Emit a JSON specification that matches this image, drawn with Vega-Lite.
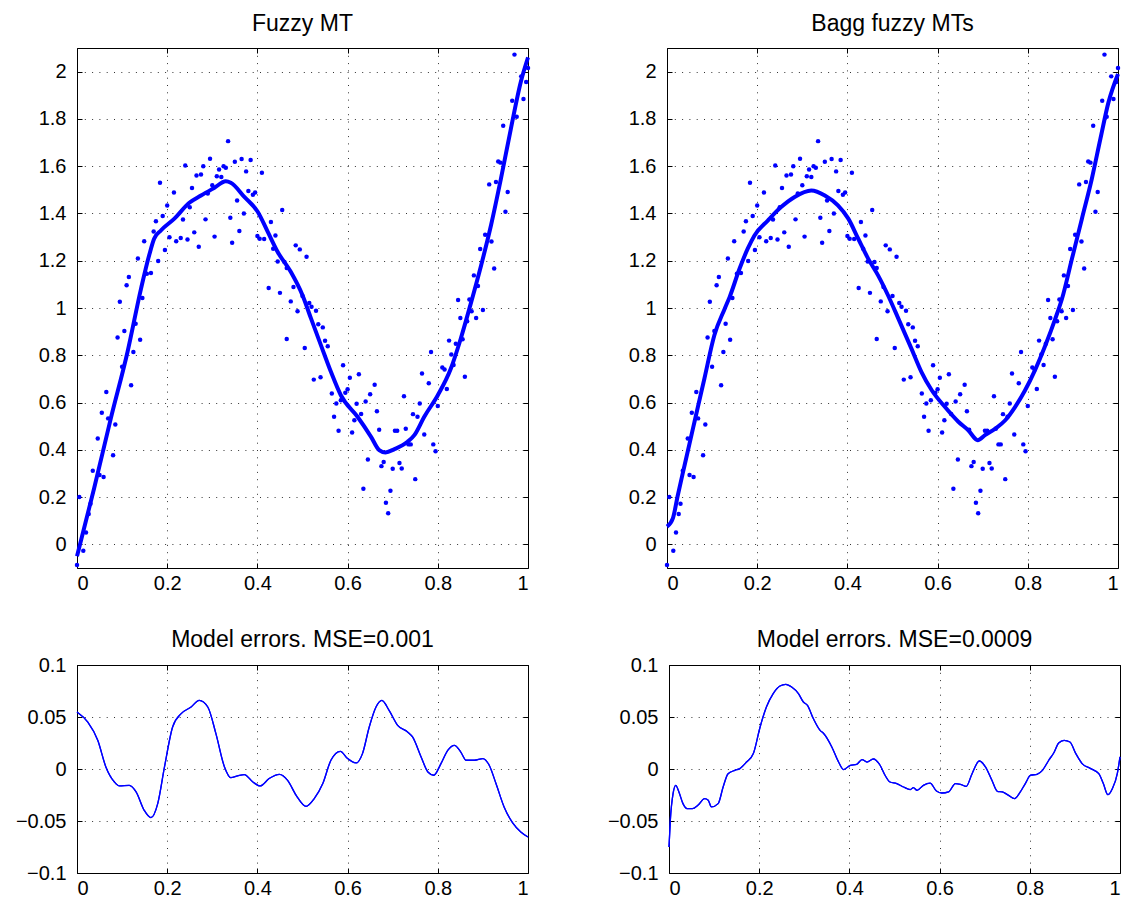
{
  "$schema": "https://vega.github.io/schema/vega-lite/v6.json",
  "padding": {"left": 14, "top": 12, "right": 2, "bottom": 0},
  "background": "#ffffff",
  "config": {
    "font": "Liberation Sans",
    "view": {"stroke": "#000000", "strokeWidth": 1},
    "axis": {
      "domain": false,
      "gridColor": "#000000",
      "gridDash": [1, 6.3],
      "gridOpacity": 0.8,
      "gridWidth": 1,
      "tickColor": "#000000",
      "tickSize": -5,
      "tickWidth": 1,
      "labelFontSize": 20,
      "labelColor": "#000000",
      "labelFont": "Liberation Sans"
    },
    "axisX": {"labelPadding": 10},
    "axisY": {"labelPadding": 16},
    "title": {"fontSize": 23, "fontWeight": "normal", "color": "#000000", "font": "Liberation Sans", "baseline": "alphabetic"}
  },
  "datasets": {
    "pts": [
      {"x":0,"y":-0.087},{"x":0.005,"y":0.2},{"x":0.014,"y":-0.027},{"x":0.02,"y":0.05},{"x":0.026,"y":0.128},{"x":0.03,"y":0.172},{"x":0.035,"y":0.311},{"x":0.046,"y":0.448},{"x":0.05,"y":0.293},{"x":0.055,"y":0.557},{"x":0.059,"y":0.285},{"x":0.065,"y":0.645},{"x":0.069,"y":0.533},{"x":0.08,"y":0.377},{"x":0.085,"y":0.507},{"x":0.09,"y":0.875},{"x":0.095,"y":1.026},{"x":0.1,"y":0.751},{"x":0.105,"y":0.903},{"x":0.11,"y":1.096},{"x":0.115,"y":1.131},{"x":0.12,"y":0.673},{"x":0.125,"y":0.814},{"x":0.13,"y":0.933},{"x":0.135,"y":1.209},{"x":0.14,"y":0.866},{"x":0.145,"y":1.042},{"x":0.149,"y":1.282},{"x":0.155,"y":1.145},{"x":0.164,"y":1.148},{"x":0.17,"y":1.324},{"x":0.175,"y":1.367},{"x":0.18,"y":1.199},{"x":0.184,"y":1.53},{"x":0.19,"y":1.389},{"x":0.195,"y":1.245},{"x":0.2,"y":1.434},{"x":0.205,"y":1.299},{"x":0.215,"y":1.489},{"x":0.22,"y":1.282},{"x":0.23,"y":1.296},{"x":0.235,"y":1.374},{"x":0.24,"y":1.603},{"x":0.245,"y":1.29},{"x":0.25,"y":1.426},{"x":0.255,"y":1.508},{"x":0.26,"y":1.32},{"x":0.265,"y":1.561},{"x":0.27,"y":1.259},{"x":0.275,"y":1.565},{"x":0.28,"y":1.6},{"x":0.285,"y":1.375},{"x":0.29,"y":1.484},{"x":0.295,"y":1.631},{"x":0.3,"y":1.519},{"x":0.305,"y":1.302},{"x":0.31,"y":1.557},{"x":0.315,"y":1.586},{"x":0.32,"y":1.554},{"x":0.325,"y":1.6},{"x":0.33,"y":1.593},{"x":0.335,"y":1.706},{"x":0.34,"y":1.382},{"x":0.344,"y":1.276},{"x":0.35,"y":1.619},{"x":0.355,"y":1.455},{"x":0.36,"y":1.326},{"x":0.365,"y":1.63},{"x":0.37,"y":1.4},{"x":0.375,"y":1.578},{"x":0.38,"y":1.495},{"x":0.385,"y":1.626},{"x":0.39,"y":1.479},{"x":0.395,"y":1.489},{"x":0.4,"y":1.305},{"x":0.405,"y":1.293},{"x":0.41,"y":1.572},{"x":0.415,"y":1.292},{"x":0.425,"y":1.085},{"x":0.43,"y":1.364},{"x":0.435,"y":1.251},{"x":0.44,"y":1.307},{"x":0.445,"y":1.197},{"x":0.45,"y":1.064},{"x":0.455,"y":1.415},{"x":0.46,"y":1.195},{"x":0.465,"y":1.169},{"x":0.465,"y":0.869},{"x":0.474,"y":1.028},{"x":0.48,"y":1.089},{"x":0.485,"y":1.265},{"x":0.489,"y":0.986},{"x":0.494,"y":1.248},{"x":0.5,"y":1.051},{"x":0.505,"y":0.831},{"x":0.509,"y":1.217},{"x":0.515,"y":1.021},{"x":0.52,"y":1.005},{"x":0.525,"y":0.697},{"x":0.53,"y":0.988},{"x":0.535,"y":0.931},{"x":0.54,"y":0.707},{"x":0.545,"y":0.918},{"x":0.55,"y":0.861},{"x":0.556,"y":0.838},{"x":0.565,"y":0.638},{"x":0.57,"y":0.54},{"x":0.575,"y":0.596},{"x":0.58,"y":0.481},{"x":0.585,"y":0.61},{"x":0.59,"y":0.758},{"x":0.595,"y":0.641},{"x":0.6,"y":0.656},{"x":0.605,"y":0.705},{"x":0.61,"y":0.473},{"x":0.615,"y":0.525},{"x":0.62,"y":0.595},{"x":0.625,"y":0.72},{"x":0.63,"y":0.552},{"x":0.635,"y":0.235},{"x":0.64,"y":0.604},{"x":0.645,"y":0.359},{"x":0.65,"y":0.635},{"x":0.66,"y":0.675},{"x":0.665,"y":0.563},{"x":0.67,"y":0.485},{"x":0.675,"y":0.331},{"x":0.68,"y":0.348},{"x":0.685,"y":0.176},{"x":0.69,"y":0.132},{"x":0.695,"y":0.227},{"x":0.7,"y":0.32},{"x":0.705,"y":0.481},{"x":0.71,"y":0.481},{"x":0.715,"y":0.344},{"x":0.72,"y":0.321},{"x":0.725,"y":0.627},{"x":0.729,"y":0.489},{"x":0.735,"y":0.423},{"x":0.74,"y":0.423},{"x":0.745,"y":0.551},{"x":0.75,"y":0.276},{"x":0.755,"y":0.54},{"x":0.76,"y":0.596},{"x":0.765,"y":0.723},{"x":0.77,"y":0.465},{"x":0.78,"y":0.682},{"x":0.785,"y":0.814},{"x":0.79,"y":0.423},{"x":0.795,"y":0.394},{"x":0.8,"y":0.585},{"x":0.81,"y":0.748},{"x":0.815,"y":0.74},{"x":0.82,"y":0.657},{"x":0.825,"y":0.862},{"x":0.83,"y":0.803},{"x":0.835,"y":0.759},{"x":0.84,"y":0.849},{"x":0.845,"y":1.034},{"x":0.85,"y":0.958},{"x":0.855,"y":0.868},{"x":0.86,"y":0.709},{"x":0.865,"y":0.944},{"x":0.87,"y":1.036},{"x":0.875,"y":0.986},{"x":0.88,"y":1.138},{"x":0.885,"y":0.958},{"x":0.889,"y":1.093},{"x":0.894,"y":1.25},{"x":0.9,"y":0.992},{"x":0.905,"y":1.31},{"x":0.914,"y":1.523},{"x":0.919,"y":1.281},{"x":0.925,"y":1.167},{"x":0.929,"y":1.533},{"x":0.934,"y":1.62},{"x":0.939,"y":1.615},{"x":0.945,"y":1.771},{"x":0.95,"y":1.407},{"x":0.955,"y":1.491},{"x":0.965,"y":1.877},{"x":0.97,"y":2.072},{"x":0.975,"y":1.809},{"x":0.985,"y":1.98},{"x":0.99,"y":1.884},{"x":0.996,"y":1.956},{"x":1.0,"y":2.015}
    ],
    "c1": [
      {"x":0,"y":-0.05},{"x":0.038,"y":0.237},{"x":0.075,"y":0.533},{"x":0.112,"y":0.814},{"x":0.142,"y":1.082},{"x":0.16,"y":1.223},{"x":0.171,"y":1.293},{"x":0.186,"y":1.328},{"x":0.216,"y":1.378},{"x":0.249,"y":1.445},{"x":0.275,"y":1.476},{"x":0.304,"y":1.508},{"x":0.33,"y":1.536},{"x":0.341,"y":1.53},{"x":0.371,"y":1.47},{"x":0.401,"y":1.406},{"x":0.423,"y":1.322},{"x":0.445,"y":1.237},{"x":0.474,"y":1.153},{"x":0.5,"y":1.054},{"x":0.519,"y":0.955},{"x":0.541,"y":0.842},{"x":0.563,"y":0.73},{"x":0.585,"y":0.631},{"x":0.622,"y":0.54},{"x":0.652,"y":0.455},{"x":0.67,"y":0.399},{"x":0.684,"y":0.389},{"x":0.704,"y":0.403},{"x":0.733,"y":0.434},{"x":0.748,"y":0.462},{"x":0.77,"y":0.54},{"x":0.8,"y":0.631},{"x":0.829,"y":0.744},{"x":0.851,"y":0.871},{"x":0.872,"y":1.011},{"x":0.896,"y":1.18},{"x":0.918,"y":1.35},{"x":0.94,"y":1.547},{"x":0.962,"y":1.758},{"x":0.984,"y":1.956},{"x":1.0,"y":2.06}
    ],
    "c2": [
      {"x":0,"y":0.075},{"x":0.013,"y":0.11},{"x":0.024,"y":0.208},{"x":0.039,"y":0.335},{"x":0.061,"y":0.519},{"x":0.083,"y":0.702},{"x":0.105,"y":0.885},{"x":0.128,"y":0.997},{"x":0.139,"y":1.047},{"x":0.161,"y":1.167},{"x":0.179,"y":1.251},{"x":0.194,"y":1.307},{"x":0.224,"y":1.371},{"x":0.253,"y":1.427},{"x":0.283,"y":1.47},{"x":0.32,"y":1.497},{"x":0.35,"y":1.476},{"x":0.379,"y":1.434},{"x":0.402,"y":1.378},{"x":0.424,"y":1.293},{"x":0.446,"y":1.209},{"x":0.468,"y":1.138},{"x":0.49,"y":1.054},{"x":0.513,"y":0.955},{"x":0.542,"y":0.828},{"x":0.564,"y":0.73},{"x":0.587,"y":0.652},{"x":0.616,"y":0.582},{"x":0.646,"y":0.519},{"x":0.668,"y":0.483},{"x":0.689,"y":0.441},{"x":0.705,"y":0.462},{"x":0.728,"y":0.49},{"x":0.75,"y":0.525},{"x":0.772,"y":0.582},{"x":0.794,"y":0.652},{"x":0.816,"y":0.737},{"x":0.839,"y":0.842},{"x":0.861,"y":0.955},{"x":0.876,"y":1.04},{"x":0.898,"y":1.209},{"x":0.92,"y":1.378},{"x":0.942,"y":1.547},{"x":0.961,"y":1.716},{"x":0.979,"y":1.871},{"x":1.0,"y":1.99}
    ],
    "e1": [
      {"x":0,"y":0.0548},{"x":0.024,"y":0.045},{"x":0.046,"y":0.0276},{"x":0.064,"y":0.002},{"x":0.083,"y":-0.0125},{"x":0.094,"y":-0.0163},{"x":0.116,"y":-0.0157},{"x":0.131,"y":-0.022},{"x":0.149,"y":-0.0397},{"x":0.164,"y":-0.0468},{"x":0.179,"y":-0.0333},{"x":0.194,"y":0.002},{"x":0.212,"y":0.0404},{"x":0.231,"y":0.0532},{"x":0.253,"y":0.0596},{"x":0.271,"y":0.066},{"x":0.29,"y":0.0596},{"x":0.308,"y":0.034},{"x":0.327,"y":0.002},{"x":0.341,"y":-0.0083},{"x":0.356,"y":-0.0067},{"x":0.371,"y":-0.0054},{"x":0.39,"y":-0.0125},{"x":0.406,"y":-0.0163},{"x":0.426,"y":-0.0092},{"x":0.449,"y":-0.0051},{"x":0.467,"y":-0.0109},{"x":0.486,"y":-0.0253},{"x":0.508,"y":-0.0359},{"x":0.526,"y":-0.0285},{"x":0.545,"y":-0.014},{"x":0.563,"y":0.0084},{"x":0.584,"y":0.017},{"x":0.6,"y":0.01},{"x":0.619,"y":0.0058},{"x":0.633,"y":0.0148},{"x":0.648,"y":0.0404},{"x":0.663,"y":0.0596},{"x":0.676,"y":0.066},{"x":0.692,"y":0.0564},{"x":0.711,"y":0.042},{"x":0.733,"y":0.0356},{"x":0.744,"y":0.0308},{"x":0.763,"y":0.0115},{"x":0.778,"y":-0.0029},{"x":0.791,"y":-0.006},{"x":0.807,"y":0.0052},{"x":0.822,"y":0.018},{"x":0.837,"y":0.0228},{"x":0.851,"y":0.0163},{"x":0.863,"y":0.0084},{"x":0.881,"y":0.0084},{"x":0.9,"y":0.01},{"x":0.914,"y":0.0036},{"x":0.929,"y":-0.014},{"x":0.947,"y":-0.0365},{"x":0.966,"y":-0.0519},{"x":0.984,"y":-0.0606},{"x":1.0,"y":-0.0654}
    ],
    "e2": [
      {"x":0,"y":-0.075},{"x":0.003,"y":-0.049},{"x":0.009,"y":-0.0237},{"x":0.015,"y":-0.0157},{"x":0.022,"y":-0.022},{"x":0.031,"y":-0.0333},{"x":0.04,"y":-0.0381},{"x":0.052,"y":-0.0381},{"x":0.064,"y":-0.0349},{"x":0.079,"y":-0.0285},{"x":0.087,"y":-0.0301},{"x":0.094,"y":-0.0365},{"x":0.109,"y":-0.0333},{"x":0.12,"y":-0.0173},{"x":0.131,"y":-0.0045},{"x":0.146,"y":-0.0013},{"x":0.157,"y":0.0004},{"x":0.172,"y":0.0067},{"x":0.187,"y":0.0148},{"x":0.202,"y":0.0404},{"x":0.216,"y":0.0596},{"x":0.231,"y":0.0725},{"x":0.246,"y":0.0798},{"x":0.259,"y":0.0814},{"x":0.272,"y":0.0788},{"x":0.287,"y":0.0725},{"x":0.298,"y":0.0644},{"x":0.307,"y":0.0612},{"x":0.32,"y":0.0485},{"x":0.335,"y":0.0372},{"x":0.342,"y":0.0346},{"x":0.361,"y":0.0212},{"x":0.376,"y":0.0067},{"x":0.387,"y":-0.0006},{"x":0.402,"y":0.0036},{"x":0.416,"y":0.0045},{"x":0.428,"y":0.009},{"x":0.439,"y":0.0067},{"x":0.453,"y":0.0096},{"x":0.468,"y":0.0036},{"x":0.479,"y":-0.006},{"x":0.49,"y":-0.0125},{"x":0.505,"y":-0.014},{"x":0.52,"y":-0.0173},{"x":0.535,"y":-0.0198},{"x":0.542,"y":-0.0179},{"x":0.55,"y":-0.0205},{"x":0.564,"y":-0.0157},{"x":0.579,"y":-0.0135},{"x":0.593,"y":-0.0212},{"x":0.605,"y":-0.0231},{"x":0.62,"y":-0.022},{"x":0.635,"y":-0.014},{"x":0.646,"y":-0.0147},{"x":0.659,"y":-0.0167},{"x":0.672,"y":-0.0045},{"x":0.688,"y":0.0077},{"x":0.702,"y":0.0019},{"x":0.716,"y":-0.0109},{"x":0.728,"y":-0.0214},{"x":0.739,"y":-0.022},{"x":0.753,"y":-0.0253},{"x":0.766,"y":-0.0285},{"x":0.779,"y":-0.022},{"x":0.79,"y":-0.014},{"x":0.802,"y":-0.006},{"x":0.816,"y":-0.0051},{"x":0.828,"y":-0.0013},{"x":0.842,"y":0.0084},{"x":0.853,"y":0.0154},{"x":0.864,"y":0.025},{"x":0.876,"y":0.0276},{"x":0.889,"y":0.026},{"x":0.902,"y":0.0148},{"x":0.916,"y":0.0052},{"x":0.935,"y":0.0004},{"x":0.953,"y":-0.0045},{"x":0.963,"y":-0.014},{"x":0.973,"y":-0.0247},{"x":0.983,"y":-0.0189},{"x":0.994,"y":-0.0045},{"x":1.0,"y":0.0116}
    ]
  },
  "vconcat": [
    {
      "hconcat": [
        {
          "title": {"text": "Fuzzy MT", "offset": 12},
          "width": 451, "height": 520,
          "layer": [
            {
              "data": {"name": "pts"},
              "mark": {"type": "circle", "color": "#0000ff", "size": 20, "opacity": 1},
              "encoding": {
                "x": {"field": "x", "type": "quantitative", "scale": {"domain": [0, 1], "nice": false, "zero": false},
                      "axis": {"orient": "bottom", "title": null, "values": [0,0.2,0.4,0.6,0.8,1], "format": "~g", "grid": true, "minExtent": 30, "maxExtent": 30}},
                "y": {"field": "y", "type": "quantitative", "scale": {"domain": [-0.1, 2.1], "nice": false, "zero": false},
                      "axis": {"orient": "left", "title": null, "values": [0,0.2,0.4,0.6,0.8,1,1.2,1.4,1.6,1.8,2], "format": "~g", "grid": true, "minExtent": 55, "maxExtent": 55}}
              }
            },
            {
              "data": {"name": "c1"},
              "mark": {"type": "line", "color": "#0000ff", "strokeWidth": 4, "interpolate": "monotone"},
              "encoding": {
                "x": {"field": "x", "type": "quantitative", "axis": {"orient": "top", "title": null, "labels": false, "grid": false, "values": [0,0.2,0.4,0.6,0.8,1], "minExtent": 0, "maxExtent": 0}},
                "y": {"field": "y", "type": "quantitative", "axis": {"orient": "right", "title": null, "labels": false, "grid": false, "values": [0,0.2,0.4,0.6,0.8,1,1.2,1.4,1.6,1.8,2], "minExtent": 0, "maxExtent": 0}}
              }
            }
          ],
          "resolve": {"axis": {"x": "independent", "y": "independent"}}
        },
        {
          "title": {"text": "Bagg fuzzy MTs", "offset": 12},
          "width": 451, "height": 520,
          "layer": [
            {
              "data": {"name": "pts"},
              "mark": {"type": "circle", "color": "#0000ff", "size": 20, "opacity": 1},
              "encoding": {
                "x": {"field": "x", "type": "quantitative", "scale": {"domain": [0, 1], "nice": false, "zero": false},
                      "axis": {"orient": "bottom", "title": null, "values": [0,0.2,0.4,0.6,0.8,1], "format": "~g", "grid": true, "minExtent": 30, "maxExtent": 30}},
                "y": {"field": "y", "type": "quantitative", "scale": {"domain": [-0.1, 2.1], "nice": false, "zero": false},
                      "axis": {"orient": "left", "title": null, "values": [0,0.2,0.4,0.6,0.8,1,1.2,1.4,1.6,1.8,2], "format": "~g", "grid": true, "minExtent": 55, "maxExtent": 55}}
              }
            },
            {
              "data": {"name": "c2"},
              "mark": {"type": "line", "color": "#0000ff", "strokeWidth": 4, "interpolate": "monotone"},
              "encoding": {
                "x": {"field": "x", "type": "quantitative", "axis": {"orient": "top", "title": null, "labels": false, "grid": false, "values": [0,0.2,0.4,0.6,0.8,1], "minExtent": 0, "maxExtent": 0}},
                "y": {"field": "y", "type": "quantitative", "axis": {"orient": "right", "title": null, "labels": false, "grid": false, "values": [0,0.2,0.4,0.6,0.8,1,1.2,1.4,1.6,1.8,2], "minExtent": 0, "maxExtent": 0}}
              }
            }
          ],
          "resolve": {"axis": {"x": "independent", "y": "independent"}}
        }
      ],
      "spacing": 74
    },
    {
      "hconcat": [
        {
          "title": {"text": "Model errors. MSE=0.001", "offset": 3},
          "width": 451, "height": 208,
          "layer": [
            {
              "data": {"name": "e1"},
              "mark": {"type": "line", "color": "#0000ff", "strokeWidth": 1.3, "interpolate": "monotone"},
              "encoding": {
                "x": {"field": "x", "type": "quantitative", "scale": {"domain": [0, 1], "nice": false, "zero": false},
                      "axis": {"orient": "bottom", "title": null, "values": [0,0.2,0.4,0.6,0.8,1], "format": "~g", "grid": true, "minExtent": 30, "maxExtent": 30}},
                "y": {"field": "y", "type": "quantitative", "scale": {"domain": [-0.1, 0.1], "nice": false, "zero": false},
                      "axis": {"orient": "left", "title": null, "values": [-0.1,-0.05,0,0.05,0.1], "format": "~g", "grid": true, "minExtent": 55, "maxExtent": 55}}
              }
            },
            {
              "data": {"name": "e1"},
              "mark": {"type": "line", "color": "#0000ff", "strokeWidth": 1.3, "interpolate": "monotone"},
              "encoding": {
                "x": {"field": "x", "type": "quantitative", "axis": {"orient": "top", "title": null, "labels": false, "grid": false, "values": [0,0.2,0.4,0.6,0.8,1], "minExtent": 0, "maxExtent": 0}},
                "y": {"field": "y", "type": "quantitative", "axis": {"orient": "right", "title": null, "labels": false, "grid": false, "values": [-0.1,-0.05,0,0.05,0.1], "minExtent": 0, "maxExtent": 0}}
              }
            }
          ],
          "resolve": {"axis": {"x": "independent", "y": "independent"}}
        },
        {
          "title": {"text": "Model errors. MSE=0.0009", "offset": 3},
          "width": 451, "height": 208,
          "layer": [
            {
              "data": {"name": "e2"},
              "mark": {"type": "line", "color": "#0000ff", "strokeWidth": 1.3, "interpolate": "monotone"},
              "encoding": {
                "x": {"field": "x", "type": "quantitative", "scale": {"domain": [0, 1], "nice": false, "zero": false},
                      "axis": {"orient": "bottom", "title": null, "values": [0,0.2,0.4,0.6,0.8,1], "format": "~g", "grid": true, "minExtent": 30, "maxExtent": 30}},
                "y": {"field": "y", "type": "quantitative", "scale": {"domain": [-0.1, 0.1], "nice": false, "zero": false},
                      "axis": {"orient": "left", "title": null, "values": [-0.1,-0.05,0,0.05,0.1], "format": "~g", "grid": true, "minExtent": 55, "maxExtent": 55}}
              }
            },
            {
              "data": {"name": "e2"},
              "mark": {"type": "line", "color": "#0000ff", "strokeWidth": 1.3, "interpolate": "monotone"},
              "encoding": {
                "x": {"field": "x", "type": "quantitative", "axis": {"orient": "top", "title": null, "labels": false, "grid": false, "values": [0,0.2,0.4,0.6,0.8,1], "minExtent": 0, "maxExtent": 0}},
                "y": {"field": "y", "type": "quantitative", "axis": {"orient": "right", "title": null, "labels": false, "grid": false, "values": [-0.1,-0.05,0,0.05,0.1], "minExtent": 0, "maxExtent": 0}}
              }
            }
          ],
          "resolve": {"axis": {"x": "independent", "y": "independent"}}
        }
      ],
      "spacing": 74
    }
  ],
  "spacing": 29
}
